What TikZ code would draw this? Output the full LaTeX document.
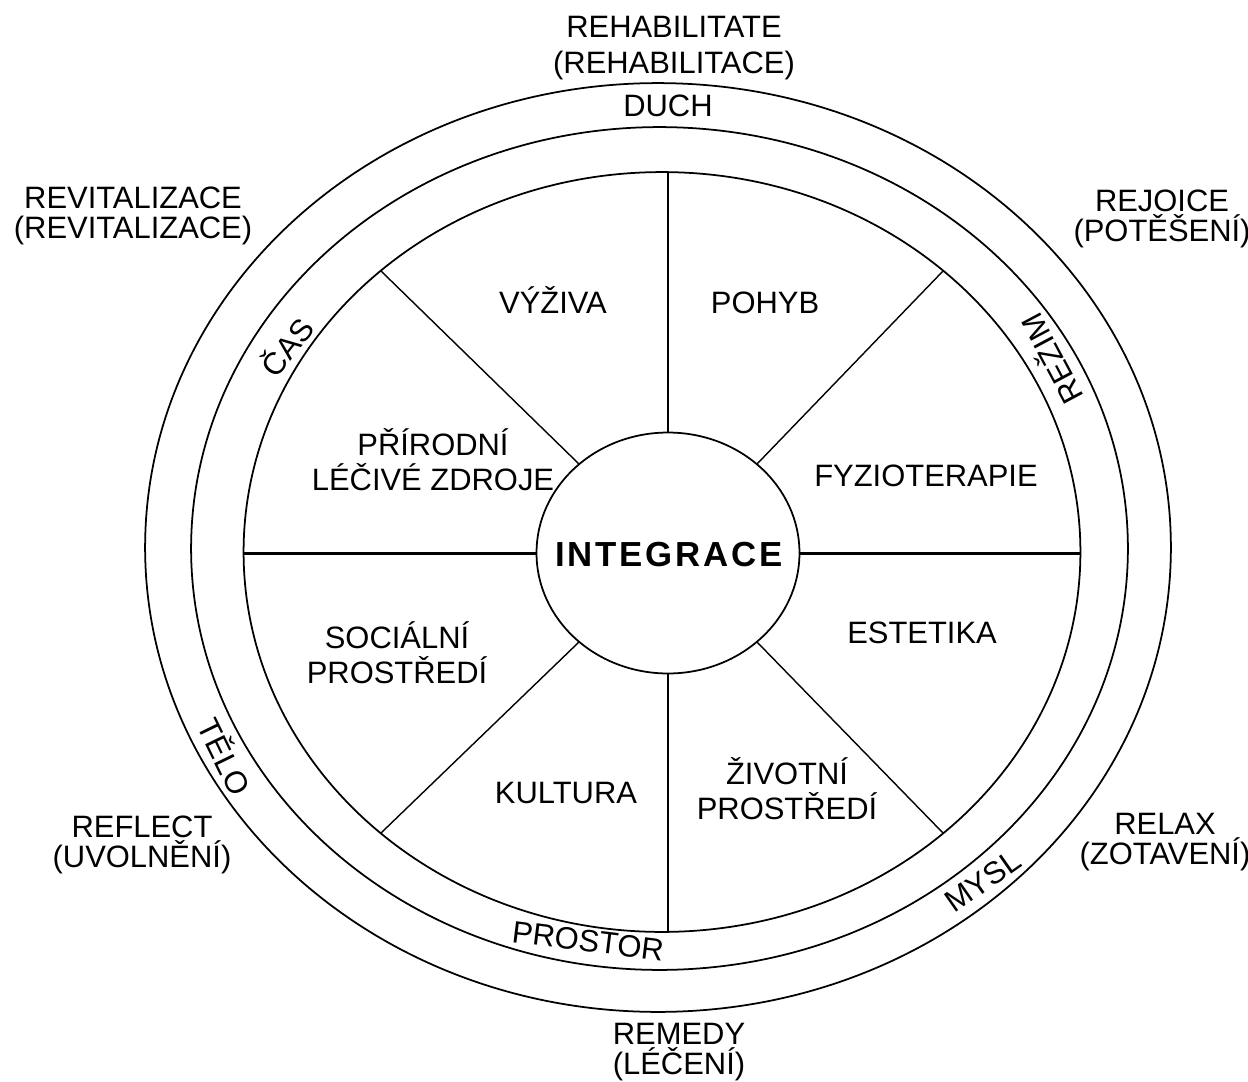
\documentclass[tikz,border=0pt]{standalone}
\usepackage{fontspec}
\setmainfont{Liberation Sans}
\newfontfamily\integfont{Liberation Sans}[LetterSpace=8]
\usetikzlibrary{positioning,shapes.geometric}

\begin{document}
\begin{tikzpicture}[x=0.02cm, y=-0.02cm, font=\fontsize{17.6}{20}\selectfont]

% Define block styles
\tikzstyle{ring} = [draw, ellipse, line width=1pt, inner sep=0pt, outer sep=0pt]
\tikzstyle{spoke} = [line width=0.8pt]
\tikzstyle{axis} = [line width=1.7pt]
\tikzstyle{sector} = [align=center, anchor=base, inner sep=0pt, font=\fontsize{17.6}{19.8}\selectfont]
\tikzstyle{outside} = [align=center, anchor=base, inner sep=0pt, font=\fontsize{17.6}{17}\selectfont]
\tikzstyle{bandtext} = [inner sep=0pt]
\tikzstyle{hubtext} = [anchor=base, inner sep=0pt, font=\integfont\bfseries\fontsize{19.8}{22}\selectfont]

\useasboundingbox (0,0) rectangle (1248,1082);

% Rings
\node [ring, minimum width=20.52cm, minimum height=18.58cm] (outer) at (658,547.5) {};
\node [ring, minimum width=18.74cm, minimum height=16.86cm] (middle) at (659.5,548.5) {};
\node [ring, minimum width=16.74cm, minimum height=15.2cm] (wheel) at (662,552) {};
\node [ring, minimum width=5.26cm, minimum height=4.82cm] (hub) at (668,553) {};
\node [hubtext] (integ) at (669,566) {INTEGRACE};

% Spokes
\draw [spoke] (hub.north) -- (hub.north |- wheel.north);
\draw [spoke] (hub.south) -- (hub.south |- wheel.south);
\draw [axis] (hub.west) -- (hub.west -| wheel.west);
\draw [axis] (hub.east) -- (hub.east -| wheel.east);
\draw [spoke] (hub.45) -- (wheel.45);
\draw [spoke] (hub.135) -- (wheel.135);
\draw [spoke] (hub.225) -- (wheel.225);
\draw [spoke] (hub.315) -- (wheel.315);

% Sectors (base = last line)
\node [sector] (vyziva) at (553,313) {VÝŽIVA};
\node [sector] (pohyb) at (765,313) {POHYB};
\node [sector] (zdroje) at (433,490) {PŘÍRODNÍ\\LÉČIVÉ ZDROJE};
\node [sector] (fyzio) at (926,486) {FYZIOTERAPIE};
\node [sector] (social) at (397,683) {SOCIÁLNÍ\\PROSTŘEDÍ};
\node [sector] (estetika) at (922,643) {ESTETIKA};
\node [sector] (kultura) at (566,803) {KULTURA};
\node [sector] (zivotni) at (787,819) {ŽIVOTNÍ\\PROSTŘEDÍ};

% Band texts
\node [bandtext] (duch) at (668,106) {DUCH};
\node [bandtext, rotate=52] (cas) at (286,346) {ČAS};
\node [bandtext, rotate=118] (rezim) at (1050,360) {REŽIM};
\node [bandtext, rotate=-64] (telo) at (226,756) {TĚLO};
\node [bandtext, rotate=35] (mysl) at (983,881) {MYSL};
\node [bandtext, rotate=-7] (prostor) at (588,941) {PROSTOR};

% Outside texts
\node [outside, font=\fontsize{17.6}{20}\selectfont] (rehab) at (674,73) {REHABILITATE\\(REHABILITACE)};
\node [outside] (revital) at (133,238) {REVITALIZACE\\(REVITALIZACE)};
\node [outside] (rejoice) at (1162,241) {REJOICE\\(POTĚŠENÍ)};
\node [outside] (reflect) at (142,867) {REFLECT\\(UVOLNĚNÍ)};
\node [outside] (relax) at (1165,864) {RELAX\\(ZOTAVENÍ)};
\node [outside] (remedy) at (679,1074) {REMEDY\\(LÉČENÍ)};

\end{tikzpicture}
\end{document}
